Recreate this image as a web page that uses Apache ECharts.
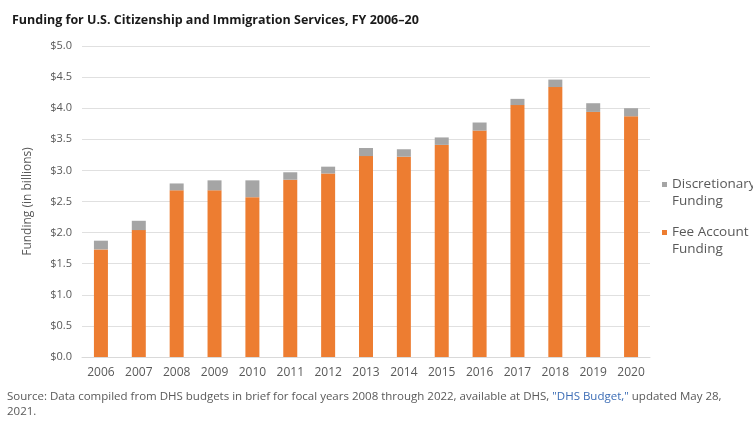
<!DOCTYPE html>
<html>
<head>
<meta charset="utf-8">
<script src="https://cdn.jsdelivr.net/npm/echarts@6/dist/echarts.min.js"></script>
<style>html,body{margin:0;padding:0;background:#fff;}#c{width:753px;height:426px;}</style>
</head>
<body>
<div id="c"></div>
<script>
const years = ['2006','2007','2008','2009','2010','2011','2012','2013','2014','2015','2016','2017','2018','2019','2020'];
const feeAccount = [1.73, 2.04, 2.68, 2.68, 2.57, 2.85, 2.95, 3.23, 3.22, 3.41, 3.64, 4.05, 4.34, 3.94, 3.87];
const discretionary = [0.14, 0.15, 0.11, 0.16, 0.27, 0.12, 0.11, 0.13, 0.12, 0.12, 0.13, 0.10, 0.12, 0.14, 0.13];
const yTicks = [0, 0.5, 1.0, 1.5, 2.0, 2.5, 3.0, 3.5, 4.0, 4.5, 5.0];

const FONT = '"Open Sans", sans-serif';
const legendText = { color: '#595959', fontSize: 13.5, lineHeight: 17 };
const chart = echarts.init(document.getElementById('c'));
chart.setOption({
  backgroundColor: '#fff',
  animation: false,
  textStyle: { fontFamily: FONT },
  title: {
    text: 'Funding for U.S. Citizenship and Immigration Services, FY 2006–20',
    left: 7, top: 9,
    textStyle: { fontFamily: FONT, fontWeight: 'bold', fontSize: 12.5, color: '#1a1a1a' }
  },
  legend: [
    { orient: 'vertical', left: 662, top: 159, padding: 0, itemWidth: 5, itemHeight: 5,
      icon: 'rect', textStyle: legendText, formatter: n => ' \n' + n,
      data: ['Discretionary\nFunding'] },
    { orient: 'vertical', left: 662, top: 207, padding: 0, itemWidth: 5, itemHeight: 5,
      icon: 'rect', textStyle: legendText, formatter: n => ' \n' + n,
      data: ['Fee Account\nFunding'] }
  ],
  grid: { left: 82, right: 103, top: 46, bottom: 69 },
  xAxis: {
    type: 'category', data: years,
    axisLine: { show: true, lineStyle: { color: '#d9d9d9' } },
    axisTick: { show: false },
    axisLabel: { color: '#595959', fontSize: 12, margin: 10 }
  },
  yAxis: {
    type: 'value', min: 0, max: 5, interval: 0.5,
    name: 'Funding (in billions)', nameLocation: 'middle', nameGap: 48, nameRotate: 90,
    nameTextStyle: { color: '#595959', fontSize: 12 },
    axisLine: { show: false }, axisTick: { show: false },
    splitLine: { lineStyle: { color: '#e0e0e0' } },
    axisLabel: { color: '#595959', fontSize: 11, margin: 10,
      formatter: v => '$' + v.toFixed(1) }
  },
  series: [
    { name: 'Fee Account\nFunding', type: 'bar', stack: 't', barWidth: 14, data: feeAccount,
      itemStyle: { color: '#ED7D31' } },
    { name: 'Discretionary\nFunding', type: 'bar', stack: 't', barWidth: 14, data: discretionary,
      itemStyle: { color: '#A5A5A5' } }
  ],
  graphic: [
    { type: 'text', left: 7, top: 391,
      style: { text: '{a|Source: Data compiled from DHS budgets in brief for focal years 2008 through 2022, available at DHS, }{b|"DHS Budget,"}{a| updated May 28,}\n{a|2021.}',
        rich: { a: { fill: '#595959', fontSize: 11.5, fontFamily: FONT, lineHeight: 15 },
                b: { fill: '#3b6cb5', fontSize: 11.5, fontFamily: FONT, lineHeight: 15 } } } }
  ]
});
</script>
</body>
</html>
